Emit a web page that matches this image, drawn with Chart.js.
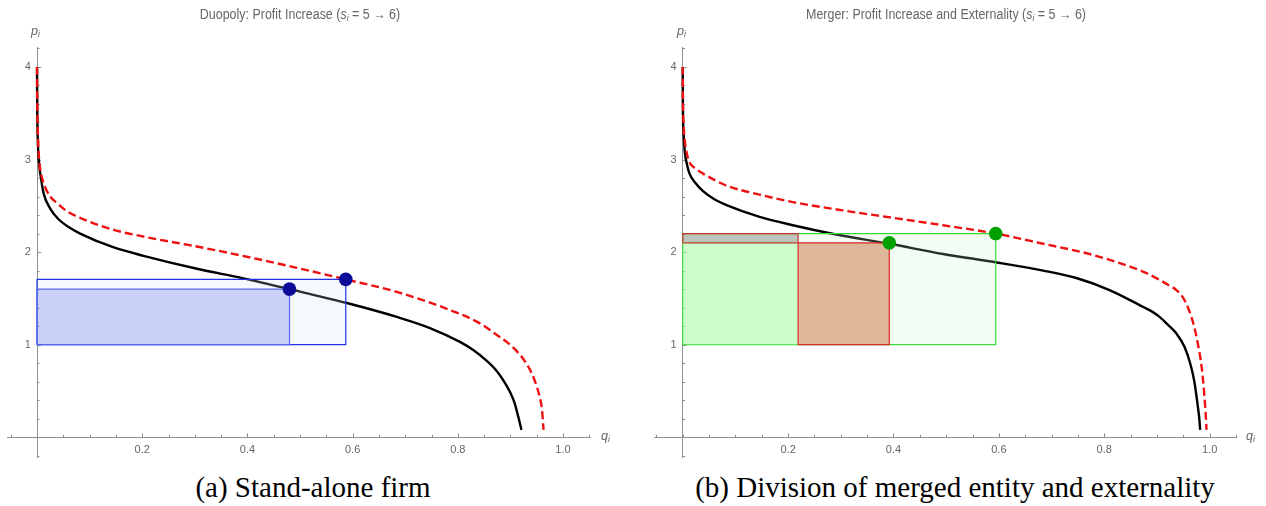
<!DOCTYPE html>
<html>
<head>
<meta charset="utf-8">
<script src="https://cdn.jsdelivr.net/npm/chart.js@4.4.1/dist/chart.umd.min.js"></script>
<style>
  body { margin: 0; background: #fff; }
  #wrap { position: relative; width: 1266px; height: 506px; overflow: hidden; }
  canvas { position: absolute; top: 0; }
  .t { position: absolute; font-family: "Liberation Sans", Arial, sans-serif; color: #666; white-space: nowrap; line-height: 1; }
  .title { font-size: 14px; top: 7px; transform: translateX(-50%) scaleX(0.89); }
  .ax { font-size: 12.5px; font-style: italic; }
  .t sub { font-size: 70%; vertical-align: -0.25em; }
  .cap { position: absolute; font-family: "Liberation Serif", "Times New Roman", serif; font-size: 29px; color: #000;
         top: 473px; transform: translateX(-50%); white-space: nowrap; line-height: 1; }
</style>
</head>
<body>
<div id="wrap">
  <canvas id="chartA" width="633" height="470" style="left:0"></canvas>
  <canvas id="chartB" width="633" height="470" style="left:633px"></canvas>

  <div class="t title" style="left:300px">Duopoly: Profit Increase (<i>s<sub>i</sub></i> = 5 → 6)</div>
  <div class="t title" style="left:946px">Merger: Profit Increase and Externality (<i>s<sub>i</sub></i> = 5 → 6)</div>
  <div class="t ax" style="left:31px;top:25px">p<sub>i</sub></div>
  <div class="t ax" style="left:677px;top:25px">p<sub>i</sub></div>
  <div class="t ax" style="left:601px;top:430px">q<sub>i</sub></div>
  <div class="t ax" style="left:1246px;top:430px">q<sub>i</sub></div>

  <div class="cap" style="left:313px">(a) Stand-alone firm</div>
  <div class="cap" style="left:955px">(b) Division of merged entity and externality</div>
</div>

<script>
// tick values (both panels)
const xTicks = [-0.05, 0, 0.05, 0.1, 0.15, 0.2, 0.25, 0.3, 0.35, 0.4, 0.45, 0.5, 0.55, 0.6, 0.65, 0.7, 0.75, 0.8, 0.85, 0.9, 0.95, 1.0, 1.05];
const xLabels = [0.2, 0.4, 0.6, 0.8, 1.0];
const yTicks = [-0.2, 0, 0.2, 0.4, 0.6, 0.8, 1, 1.2, 1.4, 1.6, 1.8, 2, 2.2, 2.4, 2.6, 2.8, 3, 3.2, 3.4, 3.6, 3.8, 4, 4.2];
const yLabels = [1, 2, 3, 4];

const marginalCost = 1;

// (a) stand-alone firm: inverse demand before (black) and after (red dashed)
const qBlackA = [0, 0.0003, 0.0015, 0.004, 0.008, 0.0127, 0.025, 0.04, 0.06, 0.082, 0.146, 0.2025, 0.304, 0.392, 0.48, 0.589, 0.684, 0.747, 0.804, 0.83, 0.854, 0.872, 0.886, 0.9, 0.908, 0.915, 0.921];
const pBlackA = [4, 3.6, 3.2, 2.95, 2.78, 2.63, 2.47, 2.36, 2.27, 2.2, 2.05, 1.96, 1.82, 1.716, 1.6, 1.45, 1.30, 1.18, 1.03, 0.94, 0.83, 0.73, 0.62, 0.48, 0.37, 0.22, 0.08];
const qRedA = [0, 0.0003, 0.0015, 0.004, 0.008, 0.0127, 0.025, 0.038, 0.057, 0.082, 0.146, 0.209, 0.304, 0.399, 0.494, 0.587, 0.684, 0.778, 0.842, 0.873, 0.905, 0.93, 0.945, 0.955, 0.96, 0.963];
const pRedA = [4, 3.7, 3.3, 3.0, 2.84, 2.74, 2.6, 2.53, 2.44, 2.37, 2.24, 2.16, 2.06, 1.95, 1.83, 1.705, 1.57, 1.39, 1.23, 1.11, 0.97, 0.8, 0.63, 0.45, 0.3, 0.08];
// equilibria (before, after)
const eqQA = [0.48, 0.587];
const eqPA = [1.6, 1.705];

// (b) merged entity
const qBlackB = [0, 0.0003, 0.0015, 0.004, 0.008, 0.0127, 0.025, 0.038, 0.06, 0.082, 0.146, 0.209, 0.291, 0.392, 0.494, 0.594, 0.684, 0.747, 0.81, 0.873, 0.89, 0.905, 0.92, 0.937, 0.952, 0.963, 0.971, 0.976, 0.98, 0.982];
const pBlackB = [4, 3.6, 3.3, 3.08, 2.95, 2.85, 2.74, 2.66, 2.57, 2.51, 2.38, 2.29, 2.19, 2.09, 1.98, 1.89, 1.80, 1.72, 1.59, 1.41, 1.36, 1.30, 1.22, 1.12, 0.98, 0.8, 0.6, 0.4, 0.22, 0.08];
const qRedB = [0, 0.0003, 0.0015, 0.004, 0.008, 0.0127, 0.025, 0.038, 0.06, 0.082, 0.146, 0.209, 0.304, 0.399, 0.494, 0.594, 0.684, 0.778, 0.873, 0.905, 0.92, 0.937, 0.947, 0.955, 0.968, 0.978, 0.985, 0.99, 0.993, 0.994];
const pRedB = [4, 3.7, 3.4, 3.2, 3.06, 2.97, 2.9, 2.85, 2.78, 2.72, 2.62, 2.54, 2.45, 2.37, 2.29, 2.2, 2.09, 1.97, 1.79, 1.70, 1.65, 1.59, 1.53, 1.45, 1.25, 1.0, 0.75, 0.45, 0.2, 0.08];
const eqQB = [0.392, 0.594];
const eqPB = [2.1, 2.2];
const splitQB = 0.219;

const axisColor = '#8f8f8f';
const labelColor = '#666';

function pts(xs, ys) {
  return xs.map((x, i) => ({ x: x, y: ys[i] }));
}
// outline of a box; the bottom edge is walked again so the path ends on the right side,
// which lets the filler span the full width
function rect(q0, q1, p0, p1) {
  return [{ x: q0, y: p0 }, { x: q0, y: p1 }, { x: q1, y: p1 }, { x: q1, y: p0 }, { x: q0, y: p0 }, { x: q1, y: p0 }];
}
function near(v, list) {
  return list.some(l => Math.abs(l - v) < 1e-6);
}

function curve(data, color, dashed) {
  return {
    data: data, showLine: true, borderColor: color, borderWidth: 2.4,
    borderDash: dashed ? [8, 4] : [], pointRadius: 0,
    cubicInterpolationMode: 'monotone', fill: false, order: dashed ? 3 : 4
  };
}
function box(data, base, fillColor, lineColor) {
  return {
    data: data, showLine: true, borderColor: lineColor, borderWidth: 1.2,
    backgroundColor: fillColor, fill: { value: base }, pointRadius: 0, tension: 0, order: 2
  };
}
function dots(data, color) {
  return {
    data: data, showLine: false, pointRadius: 6.8, pointHoverRadius: 6.8,
    pointBackgroundColor: color, pointBorderWidth: 0, order: 0
  };
}

// small inward ticks like Mathematica axes
const axisTicks = {
  id: 'axisTicks',
  beforeDatasetsDraw(chart) {
    const { ctx, scales: { x, y } } = chart;
    const x0 = x.getPixelForValue(0);
    const y0 = y.getPixelForValue(0);
    ctx.save();
    ctx.strokeStyle = axisColor;
    ctx.lineWidth = 1;
    ctx.beginPath();
    xTicks.forEach(v => {
      const px = Math.round(x.getPixelForValue(v)) + 0.5;
      const len = near(v, xLabels) ? 4 : 2.5;
      ctx.moveTo(px, y0);
      ctx.lineTo(px, y0 - len);
    });
    yTicks.forEach(v => {
      const py = Math.round(y.getPixelForValue(v)) + 0.5;
      const len = near(v, yLabels) ? 4 : 2.5;
      ctx.moveTo(x0, py);
      ctx.lineTo(x0 + len, py);
    });
    ctx.stroke();
    ctx.restore();
  }
};

function makeChart(id, datasets, xMin, xMax, pad) {
  return new Chart(document.getElementById(id), {
    type: 'scatter',
    data: { datasets: datasets },
    plugins: [axisTicks],
    options: {
      responsive: false,
      animation: false,
      layout: { autoPadding: false, padding: pad },
      plugins: { legend: { display: false }, tooltip: { enabled: false } },
      scales: {
        x: {
          type: 'linear', min: xMin, max: xMax, position: { y: 0 },
          afterBuildTicks: s => { s.ticks = xTicks.map(v => ({ value: v })); },
          grid: { drawOnChartArea: false, drawTicks: false },
          border: { display: true, color: axisColor, width: 1 },
          ticks: {
            autoSkip: false, maxRotation: 0, padding: 6, color: labelColor,
            font: { family: 'Liberation Sans', size: 11 },
            callback: v => near(v, xLabels) ? v.toFixed(1) : ''
          }
        },
        y: {
          type: 'linear', min: -0.213, max: 4.215, position: { x: 0 },
          afterBuildTicks: s => { s.ticks = yTicks.map(v => ({ value: v })); },
          grid: { drawOnChartArea: false, drawTicks: false },
          border: { display: true, color: axisColor, width: 1 },
          ticks: {
            autoSkip: false, color: labelColor,
            font: { family: 'Liberation Sans', size: 11 },
            // labels sit on the crossing axis, so pad them with trailing spaces
            callback: v => near(v, yLabels) ? String(Math.round(v)) + '  ' : ''
          }
        }
      }
    }
  });
}

makeChart('chartA', [
  dots(pts(eqQA, eqPA), '#0b0b98'),
  box(rect(0, eqQA[0], marginalCost, eqPA[0]), marginalCost, 'rgba(140,150,240,0.4)', '#5566ee'),
  box(rect(0, eqQA[1], marginalCost, eqPA[1]), marginalCost, 'rgba(200,225,245,0.2)', '#2233e6'),
  curve(pts(qRedA, pRedA), '#ee1111', true),
  curve(pts(qBlackA, pBlackA), '#000', false)
], -0.0571, 1.0513, { left: 7, right: 43, top: 47, bottom: 13 });

makeChart('chartB', [
  dots(pts(eqQB, eqPB), '#00a000'),
  box(rect(0, splitQB, eqPB[0], eqPB[1]), eqPB[0], 'rgba(90,100,90,0.37)', '#c23a2a'),
  box(rect(splitQB, eqQB[0], marginalCost, eqPB[0]), marginalCost, 'rgba(195,100,40,0.45)', '#dd2a2a'),
  box(rect(0, splitQB, marginalCost, eqPB[0]), marginalCost, 'rgba(150,255,150,0.45)', 'rgba(0,0,0,0)'),
  box(rect(0, eqQB[1], marginalCost, eqPB[1]), marginalCost, 'rgba(200,245,200,0.2)', '#3ada3a'),
  curve(pts(qRedB, pRedB), '#ee1111', true),
  curve(pts(qBlackB, pBlackB), '#000', false)
], -0.0545, 1.05, { left: 21, right: 30, top: 47, bottom: 13 });
</script>
</body>
</html>
